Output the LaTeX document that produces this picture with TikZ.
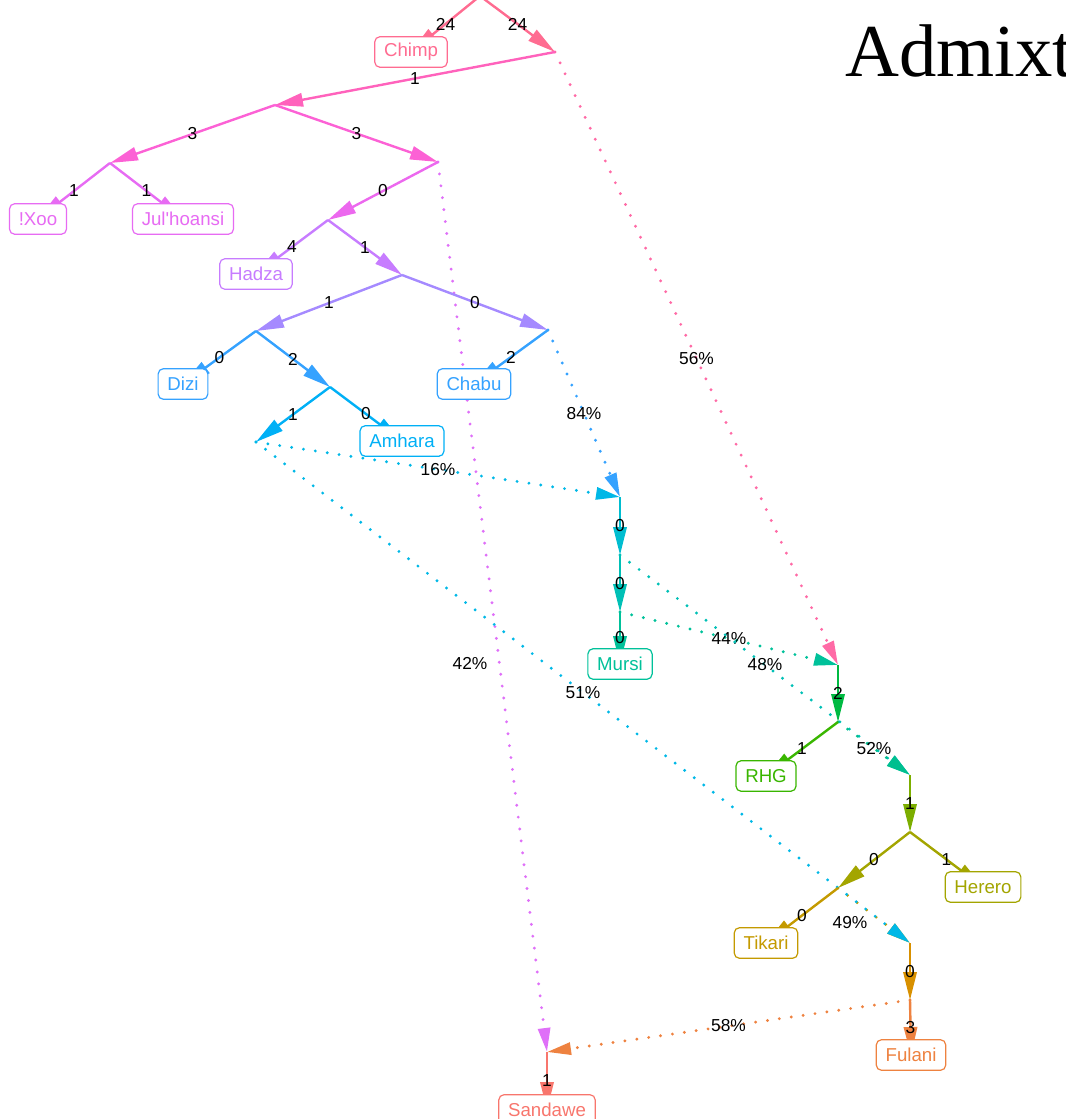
\documentclass[tikz,border=0pt]{standalone}
\usepackage{fontspec}
\setmainfont{Liberation Sans}
\newfontfamily\titlefont{Liberation Serif}
\usetikzlibrary{arrows.meta}

\definecolor{cChimp}{HTML}{FF6C91}
\definecolor{cPinkA}{HTML}{FF62BC}
\definecolor{cPinkB}{HTML}{FC61D5}
\definecolor{cXoo}{HTML}{E76BF3}
\definecolor{cMag}{HTML}{EC68EE}
\definecolor{cHadza}{HTML}{C77CFF}
\definecolor{cLav}{HTML}{A58AFF}
\definecolor{cDizi}{HTML}{35A2FF}
\definecolor{cAmhara}{HTML}{00B0F6}
\definecolor{cCyan}{HTML}{00B8E7}
\definecolor{cTealA}{HTML}{00BDD0}
\definecolor{cTealB}{HTML}{00C0B6}
\definecolor{cMursi}{HTML}{00C19A}
\definecolor{cAdmA}{HTML}{00BF8F}
\definecolor{cPinkC}{HTML}{FF6AA6}
\definecolor{cGreenA}{HTML}{00BA42}
\definecolor{cRHG}{HTML}{39B600}
\definecolor{cOlive}{HTML}{7CAE00}
\definecolor{cHerero}{HTML}{A3A500}
\definecolor{cTikari}{HTML}{C49A00}
\definecolor{cOrangeA}{HTML}{D89000}
\definecolor{cFulani}{HTML}{EE8240}
\definecolor{cViolet}{HTML}{DF70F8}
\definecolor{cSandawe}{HTML}{F8766D}

\tikzset{every picture/.style={line width=0.75pt}}
\tikzset{
  edge/.style={line width=1.8pt, -{Triangle[length=21pt,width=10pt]}},
  admix/.style={line width=2.4pt, line cap=round, dash pattern=on 0pt off 9pt, -{Triangle[length=18pt,width=9pt]}},
  leaf/.style={draw=#1, text=#1, fill=white, rounded corners=4pt, line width=0.9pt, inner xsep=7pt, inner ysep=0pt, minimum height=23pt, font=\fontsize{14}{16}\selectfont},
  elab/.style={inner sep=0.75pt, text=black, font=\fontsize{13}{15}\selectfont},
}

\begin{document}
\begin{tikzpicture}[x=0.75pt,y=0.75pt,yscale=-1,xscale=1]
\clip (0,0) rectangle (1065,1119);

% graph points
\coordinate (root) at (480,-4);
\coordinate (n1) at (555,52);
\coordinate (n2) at (275,105);
\coordinate (n3) at (110,163);
\coordinate (n4) at (438,162);
\coordinate (n5) at (328,220);
\coordinate (n6) at (402,275);
\coordinate (n7) at (256,331);
\coordinate (n8) at (548,330);
\coordinate (n9) at (330,387);
\coordinate (n10) at (256,442);
\coordinate (a1) at (620,497);
\coordinate (n11) at (620,555);
\coordinate (n12) at (620,612);
\coordinate (a2) at (838,665);
\coordinate (n13) at (838,722);
\coordinate (a3) at (910,775);
\coordinate (n14) at (910,832);
\coordinate (n15) at (838,888);
\coordinate (a4) at (910,943);
\coordinate (n16) at (910,1000);
\coordinate (a5) at (547,1052);
% leaves
\coordinate (chimp) at (411,52);
\coordinate (xoo) at (38,219);
\coordinate (jul) at (183,219);
\coordinate (hadza) at (256,274);
\coordinate (dizi) at (183,384);
\coordinate (chabu) at (474,384);
\coordinate (amhara) at (402,441);
\coordinate (mursi) at (620,664);
\coordinate (rhg) at (766,776);
\coordinate (herero) at (983,887);
\coordinate (tikari) at (766,943);
\coordinate (fulani) at (911,1055);
\coordinate (sandawe) at (547,1110);

%Dotted Lines
\draw [admix, cPinkC] (n1) -- node[elab]{56\%} (a2);
\draw [admix, cViolet] (n4) -- node[elab, pos=0.563, xshift=-22pt]{42\%} (a5);
\draw [admix, cDizi] (n8) -- node[elab]{84\%} (a1);
\draw [admix, cCyan] (n10) -- node[elab]{16\%} (a1);
\draw [admix, cMursi] (n12) -- node[elab]{44\%} (a2);
\draw [admix, cTealB] (n11) -- node[elab]{48\%} (a3);
\draw [admix, cAdmA] (n13) -- node[elab]{52\%} (a3);
\draw [admix, cTikari] (n15) -- node[elab, xshift=-18pt, yshift=-5.5pt]{49\%} (a4);
\draw [admix, cCyan] (n10) -- node[elab]{51\%} (a4);
\draw [admix, cFulani] (n16) -- node[elab]{58\%} (a5);

%Straight Lines
\draw [edge, cChimp] (root) -- node[elab]{24} (chimp);
\draw [edge, cChimp] (root) -- node[elab]{24} (n1);
\draw [edge, cPinkA] (n1) -- node[elab]{1} (n2);
\draw [edge, cPinkB] (n2) -- node[elab]{3} (n3);
\draw [edge, cPinkB] (n2) -- node[elab]{3} (n4);
\draw [edge, cXoo] (n3) -- node[elab]{1} (xoo);
\draw [edge, cXoo] (n3) -- node[elab]{1} (jul);
\draw [edge, cMag] (n4) -- node[elab]{0} (n5);
\draw [edge, cHadza] (n5) -- node[elab]{4} (hadza);
\draw [edge, cHadza] (n5) -- node[elab]{1} (n6);
\draw [edge, cLav] (n6) -- node[elab]{1} (n7);
\draw [edge, cLav] (n6) -- node[elab]{0} (n8);
\draw [edge, cDizi] (n7) -- node[elab]{0} (dizi);
\draw [edge, cDizi] (n7) -- node[elab]{2} (n9);
\draw [edge, cDizi] (n8) -- node[elab]{2} (chabu);
\draw [edge, cAmhara] (n9) -- node[elab]{1} (n10);
\draw [edge, cAmhara] (n9) -- node[elab]{0} (amhara);
\draw [edge, cTealA] (a1) -- node[elab]{0} (n11);
\draw [edge, cTealB] (n11) -- node[elab]{0} (n12);
\draw [edge, cMursi] (n12) -- node[elab]{0} (mursi);
\draw [edge, cGreenA] (a2) -- node[elab]{2} (n13);
\draw [edge, cRHG] (n13) -- node[elab]{1} (rhg);
\draw [edge, cOlive] (a3) -- node[elab]{1} (n14);
\draw [edge, cHerero] (n14) -- node[elab]{1} (herero);
\draw [edge, cHerero] (n14) -- node[elab]{0} (n15);
\draw [edge, cTikari] (n15) -- node[elab]{0} (tikari);
\draw [edge, cOrangeA] (a4) -- node[elab]{0} (n16);
\draw [edge, cFulani] (n16) -- node[elab]{3} (fulani);
\draw [edge, cSandawe] (a5) -- node[elab]{1} (sandawe);

% Text Node
\node [leaf=cChimp] (chimpLab) at (chimp) {Chimp};
\node [leaf=cXoo] (xooLab) at (xoo) {!Xoo};
\node [leaf=cXoo] (julLab) at (jul) {Jul\textquotesingle hoansi};
\node [leaf=cHadza] (hadzaLab) at (hadza) {Hadza};
\node [leaf=cDizi] (diziLab) at (dizi) {Dizi};
\node [leaf=cDizi] (chabuLab) at (chabu) {Chabu};
\node [leaf=cAmhara] (amharaLab) at (amhara) {Amhara};
\node [leaf=cMursi] (mursiLab) at (mursi) {Mursi};
\node [leaf=cRHG] (rhgLab) at (rhg) {RHG};
\node [leaf=cHerero] (hereroLab) at (herero) {Herero};
\node [leaf=cTikari] (tikariLab) at (tikari) {Tikari};
\node [leaf=cFulani] (fulaniLab) at (fulani) {Fulani};
\node [leaf=cSandawe] (sandaweLab) at (sandawe) {Sandawe};

% Text Node
\node [anchor=base west, inner sep=0pt, font=\titlefont\fontsize{56}{60}\selectfont] (title) at (845,77) {Admixt};

\end{tikzpicture}
\end{document}
